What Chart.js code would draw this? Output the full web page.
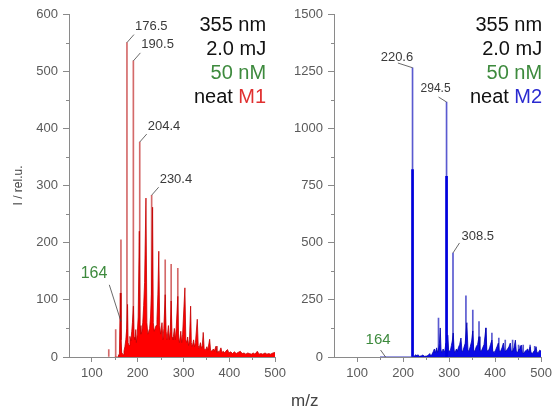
<!DOCTYPE html>
<html><head><meta charset="utf-8">
<script src="https://cdn.jsdelivr.net/npm/chart.js@4.4.1/dist/chart.umd.min.js"></script>
<style>
html,body{margin:0;padding:0;background:#fff;}
#wrap{position:relative;width:556px;height:416px;overflow:hidden;background:#fff;}
canvas{position:absolute;top:0;}
#c1{left:0;width:290px;height:416px;}
#c2{left:280px;width:276px;height:416px;}
#xlab{position:absolute;left:291px;top:391px;font:17px Arial,"Liberation Sans",sans-serif;line-height:20px;color:#444;}
</style></head><body>
<div id="wrap"><canvas id="c1" width="290" height="416"></canvas><canvas id="c2" width="276" height="416"></canvas><div id="xlab">m/z</div></div>
<script>
// ---------- data ----------
const xTicks = [100, 200, 300, 400, 500];
const xAll = [50, 100, 150, 200, 250, 300, 350, 400, 450, 500];
const yTicks1 = [0, 100, 200, 300, 400, 500, 600];
const yAll1 = [0, 50, 100, 150, 200, 250, 300, 350, 400, 450, 500, 550, 600];
const yTicks2 = [0, 250, 500, 750, 1000, 1250, 1500];
const yAll2 = [0, 125, 250, 375, 500, 625, 750, 875, 1000, 1125, 1250, 1375, 1500];

// M1 (left) thin sticks
const stickMz1 = [136.8, 151.9, 163.4, 176.5, 190.5, 204.4, 230.4, 260, 273, 287.5];
const stickI1  = [13, 48, 205, 550, 518, 376, 283, 170, 162, 155];
// M1 profile
const mz1 = [150,157,158,160,162,163.5,165,168,170,172,174,176,177.8,179,181,183,185,187,188.5,190.6,192,194,195.8,197,199,201,203.5,205,207,209,211,213,215,218,220,222,224,226,228,230,232.5,234,236,238,240,242,244,246,248,250,253,255,257,260,262,264,267,269,271,273,275,277,280,282,284,287.5,289,291,294,296,298,303,305,307,309,311,313,315.5,317,319,322,324,326,330,332,334,337,339,341,343,345,348,351,353,357,359,362,365,367,371,373,376,378,381.6,384,387,390,392,396,399,403,407,411,415,419,424,428,432,436,440,444,448,452,456,461,465,469,473,478,482,486,490,495,500];
const int1 = [0,0,4,2,112,30,8,4,10,18,30,50,92,25,20,36,28,45,60,89,35,30,48,25,40,70,220,55,40,45,60,90,130,278,60,40,45,50,70,110,262,60,45,50,55,65,110,185,55,40,60,30,50,109,45,30,55,30,45,98,35,30,50,30,50,106,35,25,45,25,40,121,30,25,35,20,30,89,25,18,30,18,25,66,20,15,25,15,20,43,15,12,18,12,31,12,10,14,10,19,8,10,8,16,8,10,7,10,13,7,9,6,9,6,8,10,6,7,5,7,6,5,7,5,10,5,6,5,7,5,6,5,7,8];

// M2 (right) thin sticks
const stickMz2 = [220.6, 294.5, 308.5, 277, 336.6, 351.5, 365, 380, 393, 408, 422, 438, 451, 461, 476, 486];
const stickI2  = [1265, 1115, 455, 170, 268, 205, 155, 127, 105, 83, 74, 74, 52, 52, 52, 47];
// M2 thick bars
const barMz2 = [220.6, 294.5];
const barI2  = [820, 790];
// M2 profile
const mz2 = [150,222,225,228,230,232,236,240,243,246,252,256,258,260,263,266,268,270,273,275,277,279,280.8,282.5,285,287,289,291,293,296,297,299,301,303,305,307,309,311,313,316,318,320,323,325.8,328,330,332,335,338.6,341,343,346,349,351.5,353.5,356,359,362,365,367,370,373,376,380,382,385,388,390,393,395,398,401,404,407,409,412,415,418,420,423,427,430,433,435,438,441,444,446,449,452,454,457,459,462,465,468,471,473,476,478,481,484,487,489,491,494,497,500];
const int2 = [0,0,5,10,4,10,3,5,9,3,4,10,15,5,12,25,35,18,40,20,30,60,127,30,20,35,25,30,60,20,96,30,25,30,50,70,105,30,20,35,25,40,55,83,25,25,40,60,150,30,25,45,70,114,30,25,45,55,89,30,25,40,55,127,30,25,40,55,74,25,20,30,45,61,25,25,40,61,30,25,35,45,61,25,25,40,74,25,20,35,45,52,20,15,25,30,35,20,45,20,15,25,30,45,18,20,30,25];

// annotation texts
const labels1 = ['176.5', '190.5', '204.4', '230.4'];
const labels2 = ['220.6', '294.5', '308.5'];
const lowLabel = '164';
const legendLines1 = [['355 nm'], ['2.0 mJ'], ['50 nM'], ['neat ', 'M1']];
const legendLines2 = [['355 nm'], ['2.0 mJ'], ['50 nM'], ['neat ', 'M2']];

// ---------- styles ----------
const F = 'Arial, "Liberation Sans", sans-serif';
const AX = '#8a8a8a';
const GREEN = '#3d8a3d';

const annotPlugin = {
  id: 'annot',
  afterDraw(chart, args, o) {
    const { ctx, chartArea } = chart;
    const x = chart.scales.x, y = chart.scales.y;
    ctx.save();
    ctx.strokeStyle = AX; ctx.lineWidth = 1;
    x.ticks.forEach(t => {
      if (!xTicks.includes(t.value) && t.value !== 50) {
        const px = Math.round(x.getPixelForValue(t.value)) + 0.5;
        ctx.beginPath(); ctx.moveTo(px, chartArea.bottom); ctx.lineTo(px, chartArea.bottom + 3); ctx.stroke();
      }
    });
    y.ticks.forEach(t => {
      if (!o.yMajor.includes(t.value)) {
        const py = Math.round(y.getPixelForValue(t.value)) + 0.5;
        ctx.beginPath(); ctx.moveTo(chartArea.left - 3, py); ctx.lineTo(chartArea.left, py); ctx.stroke();
      }
    });
    o.labels.forEach(L => {
      const ax = x.getPixelForValue(L.at[0]);
      const ay = y.getPixelForValue(L.at[1]);
      ctx.strokeStyle = '#444'; ctx.lineWidth = 0.8;
      ctx.beginPath();
      ctx.moveTo(ax + L.from[0], ay + L.from[1]);
      ctx.lineTo(ax + L.to[0], ay + L.to[1]);
      ctx.stroke();
      ctx.fillStyle = L.color || '#3a3a3a';
      ctx.font = (L.size || 13) + 'px ' + F;
      ctx.textAlign = L.align || 'left';
      ctx.textBaseline = 'middle';
      ctx.fillText(L.text, ax + L.txt[0], ay + L.txt[1]);
    });
    ctx.font = '20px ' + F;
    ctx.textBaseline = 'alphabetic';
    ctx.textAlign = 'left';
    const rx = chartArea.right + o.legend.dx;
    o.legend.lines.forEach((parts, i) => {
      const by = chartArea.top + o.legend.y0 + i * 24;
      const widths = parts.map(p => ctx.measureText(p).width);
      let cx = rx - widths.reduce((a, b) => a + b, 0);
      parts.forEach((p, j) => {
        ctx.fillStyle = o.legend.colors[i][j];
        ctx.fillText(p, cx, by);
        cx += widths[j];
      });
    });
    ctx.restore();
  }
};

function makeScales(yMax, yAll, yMajor, yWidth, title) {
  return {
    x: {
      type: 'linear', min: 50, max: 500, offset: false,
      afterBuildTicks: s => { s.ticks = xAll.map(v => ({ value: v })); },
      afterFit: s => { s.height = 59; },
      grid: { drawOnChartArea: false, drawTicks: true, tickLength: 5, offset: false,
        tickColor: c => (c.tick && xTicks.includes(c.tick.value)) ? AX : 'rgba(0,0,0,0)' },
      border: { display: true, color: AX, width: 1 },
      ticks: { autoSkip: false, maxRotation: 0, padding: 4, color: '#5a5a5a', font: { family: F, size: 13 },
        callback: v => xTicks.includes(v) ? String(v) : '' }
    },
    y: {
      type: 'linear', min: 0, max: yMax,
      afterBuildTicks: s => { s.ticks = yAll.map(v => ({ value: v })); },
      afterFit: s => { s.width = yWidth; },
      grid: { drawOnChartArea: false, drawTicks: true, tickLength: 6,
        tickColor: c => (c.tick && yMajor.includes(c.tick.value)) ? AX : 'rgba(0,0,0,0)' },
      border: { display: true, color: AX, width: 1 },
      title: title ? { display: true, text: title, color: '#444', font: { family: F, size: 12 }, padding: { top: 11, bottom: 0 } } : { display: false },
      ticks: { autoSkip: false, padding: 5, color: '#5a5a5a', font: { family: F, size: 13 },
        callback: v => yMajor.includes(v) ? String(v) : '' }
    }
  };
}

const pts = (xs, ys) => xs.map((m, i) => ({ x: m, y: ys[i] }));

new Chart(document.getElementById('c1'), {
  type: 'bar',
  data: {
    datasets: [
      { type: 'bar', data: pts(stickMz1, stickI1), backgroundColor: '#d46a6a', barThickness: 1, grouped: false, order: 2 },
      { type: 'line', data: pts(mz1, int1), borderColor: '#c40000', borderWidth: 0.8, backgroundColor: '#ff0000',
        fill: 'origin', pointRadius: 0, tension: 0, order: 1 }
    ]
  },
  options: {
    responsive: false, animation: false, devicePixelRatio: 1,
    layout: { padding: { left: 0, right: 12, top: 14, bottom: 0 } },
    scales: makeScales(600, yAll1, yTicks1, 69, 'I / rel.u.'),
    plugins: {
      legend: { display: false }, tooltip: { enabled: false },
      annot: {
        yMajor: yTicks1,
        labels: [
          ...labels1.map(t => ({ at: [parseFloat(t), stickI1[stickMz1.indexOf(parseFloat(t))]], text: t,
            from: [0, 0], to: [7, -8], txt: [8, -16], align: 'left' })),
          { at: [163.5, 62], text: lowLabel, from: [-11.7, -36.7], to: [0, 0], txt: [-27, -48], align: 'center', color: GREEN, size: 16 }
        ],
        legend: { dx: -9, y0: 17, lines: legendLines1,
          colors: [['#111'], ['#111'], [GREEN], ['#111', '#e03030']] }
      }
    }
  },
  plugins: [annotPlugin]
});

new Chart(document.getElementById('c2'), {
  type: 'bar',
  data: {
    datasets: [
      { type: 'bar', data: pts(stickMz2, stickI2), backgroundColor: '#5a5ad0', barThickness: 1, grouped: false, order: 3 },
      { type: 'line', data: pts(mz2, int2), borderColor: '#0000b0', borderWidth: 0.8, backgroundColor: '#0a0ae6',
        fill: 'origin', pointRadius: 0, tension: 0, order: 1 },
      { type: 'bar', data: pts(barMz2, barI2), backgroundColor: '#0000dd', barThickness: 2, grouped: false, order: 0 }
    ]
  },
  options: {
    responsive: false, animation: false, devicePixelRatio: 1,
    layout: { padding: { left: 0, right: 12, top: 14, bottom: 0 } },
    scales: makeScales(1500, yAll2, yTicks2, 54, null),
    plugins: {
      legend: { display: false }, tooltip: { enabled: false },
      annot: {
        yMajor: yTicks2,
        labels: [
          { at: [220.6, stickI2[0]], text: labels2[0], from: [0, 0], to: [-14.6, -4.7], txt: [-15.6, -10.7], align: 'center' },
          { at: [294.5, stickI2[1]], text: labels2[1], from: [0, 0], to: [-8, -5], txt: [-11, -13], align: 'center', size: 12 },
          { at: [308.5, stickI2[2]], text: labels2[2], from: [0, 0], to: [6.5, -10], txt: [8.5, -16.5], align: 'left' },
          { at: [162, 0], text: lowLabel, from: [-5, -7], to: [0, 0], txt: [-7.5, -17.5], align: 'center', color: GREEN, size: 15 }
        ],
        legend: { dx: 1, y0: 17, lines: legendLines2,
          colors: [['#111'], ['#111'], [GREEN], ['#111', '#2a2ad0']] }
      }
    }
  },
  plugins: [annotPlugin]
});
</script></body></html>
